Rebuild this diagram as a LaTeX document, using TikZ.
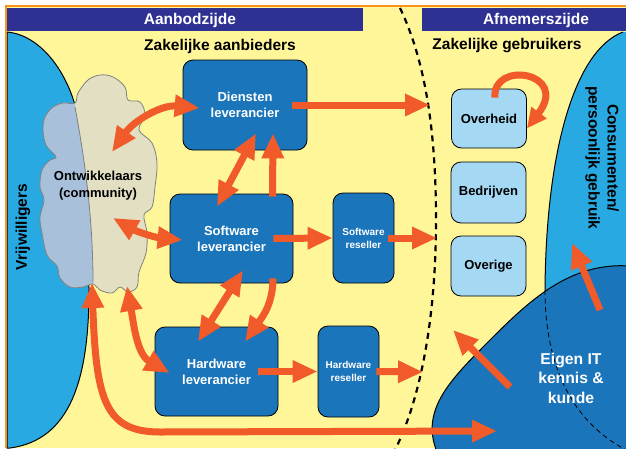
\documentclass[tikz,border=0pt]{standalone}
\usepackage{fontspec}
\setmainfont{Liberation Sans}
\usetikzlibrary{arrows.meta}

\definecolor{geel}{HTML}{FFF599}
\definecolor{kopblauw}{HTML}{2E3192}
\definecolor{doosblauw}{HTML}{1B75BB}
\definecolor{lichtblauw}{HTML}{A4D8F3}
\definecolor{helderblauw}{HTML}{29A9E1}
\definecolor{wolkblauw}{HTML}{A8C0D9}
\definecolor{wolkbeige}{HTML}{E3DFC3}
\definecolor{oranje}{HTML}{F15A29}
\definecolor{randoranje}{HTML}{F7941D}

\begin{document}
\begin{tikzpicture}[x=1pt,y=1pt,
    kop/.style={text=white, font=\bfseries\fontsize{15.5}{18}\selectfont, inner sep=0pt},
    titel/.style={font=\bfseries\fontsize{15.5}{19}\selectfont, align=center, inner sep=0pt},
    doos/.style={draw=black, line width=0.8pt, fill=doosblauw, rounded corners=10pt,
      text=white, align=center, font=\bfseries\fontsize{13}{16}\selectfont},
    reseller/.style={doos, font=\bfseries\fontsize{10}{13}\selectfont},
    klant/.style={draw=black, line width=0.8pt, fill=lichtblauw, rounded corners=10pt,
      font=\bfseries\fontsize{13}{16}\selectfont, minimum width=75pt, minimum height=60pt},
    wolkrand/.style={draw=black!50, line width=0.8pt},
    pijl/.style={draw=oranje, line width=7pt, -{Triangle[length=25pt,width=21pt]}},
    tweepijl/.style={pijl, {Triangle[length=25pt,width=21pt]}-{Triangle[length=25pt,width=21pt]}}]
  \clip (0,0) rectangle (626,-448);
  \fill[white] (0,0) rectangle (626,-448);
  \fill[geel] (7,-7) rectangle (626,-448);

  % afnemerszijde: consumenten en eigen IT
  \fill[helderblauw] (623,-32) .. controls (575,-50) and (546,-150) .. (545,-290)
    .. controls (545,-370) and (575,-425) .. (630,-452) -- (630,-32) -- cycle;
  \draw[line width=1pt] (623,-32) .. controls (575,-50) and (546,-150) .. (545,-290);
  \fill[doosblauw, draw=black, line width=1pt] (437,-452) .. controls (420,-410) and (450,-380) .. (490,-340)
    .. controls (530,-300) and (570,-262) .. (630,-266) -- (630,-452) -- cycle;
  \draw[line width=0.8pt, dash pattern=on 5pt off 3.5pt] (545,-290) .. controls (545,-370) and (575,-425) .. (630,-452);

  % aanbodzijde: vrijwilligers
  \fill[helderblauw, draw=black, line width=1pt] (7,-32) .. controls (40,-35) and (65,-70) .. (75,-105)
    .. controls (88,-160) and (89,-230) .. (89,-290)
    .. controls (89,-380) and (70,-440) .. (10,-448) -- (7,-448) -- cycle;

  % koppen
  \fill[kopblauw] (7,-8) rectangle (363,-31);
  \fill[kopblauw] (422,-8) rectangle (626,-31);
  \draw[randoranje, line width=2pt] (6,-448) -- (6,-6) -- (626,-6);
  \node[kop] (aanbod) at (190,-20) {Aanbodzijde};
  \node[kop] (afnemer) at (536,-20) {Afnemerszijde};
  \node[titel] (aanbieders) at (220,-46) {Zakelijke aanbieders};
  \node[titel] (gebruikers) at (507,-46) {Zakelijke gebruikers};

  % wolk
  \draw[wolkrand, fill=wolkbeige, path picture={
      \fill[wolkblauw] (30,-60) -- (74,-60) -- (75,-107) .. controls (85,-160) and (93,-220) .. (93,-282)
        -- (93,-320) -- (30,-320) -- cycle;
      \draw[wolkrand] (75,-107) .. controls (85,-160) and (93,-220) .. (93,-282);}]
    plot[smooth cycle, tension=0.6] coordinates {
      (75,-103) (78,-93) (88,-80) (100,-75) (113,-77) (125,-87) (128,-100) (140,-102)
      (145,-115) (139,-130) (152,-143) (157,-163) (155,-187) (152,-207) (144,-215)
      (147,-233) (146,-253) (139,-272) (137,-287) (128,-292) (120,-287) (112,-293)
      (100,-290) (93,-284) (83,-287) (70,-287) (60,-278) (57,-266) (47,-255)
      (42,-233) (40,-217) (44,-200) (40,-187) (42,-170) (50,-160) (56,-157)
      (46,-145) (43,-130) (45,-117) (53,-107) (63,-103)};
  \node[titel, font=\bfseries\fontsize{13}{17}\selectfont] (ontw) at (98,-186) {Ontwikkelaars\\(community)};

  % grens
  \draw[line width=2.2pt, dash pattern=on 6pt off 5pt] (400,-8) .. controls (425,-60) and (436,-130) .. (436,-220)
    .. controls (436,-320) and (420,-400) .. (395,-450);

  % dozen
  \node[doos, minimum width=124pt, minimum height=90pt] (dl) at (245,-105) {Diensten\\leverancier};
  \node[doos, minimum width=123pt, minimum height=89pt] (sl) at (231.5,-238.5) {Software\\leverancier};
  \node[reseller, minimum width=61pt, minimum height=90pt] (sr) at (363.5,-238) {Software\\reseller};
  \node[doos, minimum width=123pt, minimum height=89pt] (hl) at (216.5,-371.5) {Hardware\\leverancier};
  \node[reseller, minimum width=61pt, minimum height=91pt] (hr) at (348.5,-371.5) {Hardware\\reseller};
  \node[klant, minimum height=59pt] (ov) at (489,-118.5) {Overheid};
  \node[klant, minimum height=61pt] (bd) at (488.5,-192.5) {Bedrijven};
  \node[klant] (og) at (488.5,-266) {Overige};

  \node[titel, rotate=90] (vrijw) at (23,-227) {Vrijwilligers};
  \node[titel, rotate=-90] (consument) at (602,-158) {Consumenten/\\persoonlijk gebruik};
  \node[titel, text=white, font=\bfseries\fontsize{15.7}{19.5}\selectfont] (eigen) at (571,-378) {Eigen IT\\kennis \&\\kunde};

  % pijlen
  \coordinate (w1) at (112,-152);
  \coordinate (w2) at (113,-218);
  \coordinate (w3) at (127,-286);
  \coordinate (w4) at (92,-283);
  \coordinate (g1) at (430,-105);
  \coordinate (g2) at (437,-238);
  \coordinate (g3) at (423,-372);
  \coordinate (g4) at (497,-431);
  \coordinate (g5) at (453,-330);
  \coordinate (e1) at (510,-387);
  \coordinate (e2) at (600,-310);
  \coordinate (c1) at (572,-243);

  \draw[tweepijl] (w1) to[out=55,in=175] ([shift={(17,-3)}]dl.west);
  \draw[pijl] ([xshift=-15pt]dl.east) -- (g1);
  \draw[pijl, -{Triangle[length=20pt,width=18pt]}] ([shift={(6,-9)}]ov.north) .. controls (492,-60) and (570,-72) .. ([shift={(0,-10)}]ov.east);
  \draw[tweepijl] ([shift={(11,17)}]dl.south) -- ([shift={(-14.5,-13)}]sl.north);
  \draw[pijl] ([shift={(41,-3)}]sl.north) -- ([shift={(28,17)}]dl.south);
  \draw[tweepijl] (w2) to[bend right=12] ([shift={(13,-1.5)}]sl.west);
  \draw[pijl] ([xshift=-20pt]sl.east) -- (sr.west);
  \draw[pijl] ([xshift=-6pt]sr.east) -- (g2);
  \draw[tweepijl] ([shift={(11.5,13)}]sl.south) -- ([shift={(-18.5,-15)}]hl.north);
  \draw[pijl] ([shift={(41.5,5)}]sl.south) to[out=-90,in=55] ([shift={(28.5,-15)}]hl.north);
  \draw[tweepijl] (w3) to[out=-80,in=150] ([shift={(15,-1.5)}]hl.west);
  \draw[tweepijl] (w4) .. controls (96,-400) and (105,-432) .. (160,-432) -- (g4);
  \draw[pijl] ([xshift=-20pt]hl.east) -- (hr.west);
  \draw[pijl] ([xshift=-3pt]hr.east) -- (g3);
  \draw[pijl] (e1) -- (g5);
  \draw[pijl] (e2) -- (c1);
\end{tikzpicture}
\end{document}
